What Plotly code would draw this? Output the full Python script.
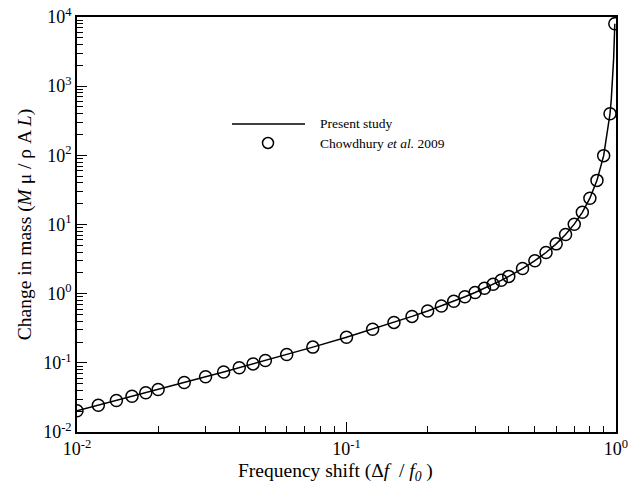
import plotly.graph_objects as go

# Chowdhury et al. 2009 (markers)
ref_shift = [0.01, 0.012, 0.014, 0.016, 0.018, 0.02, 0.025, 0.03, 0.035, 0.04, 0.045, 0.05,
             0.06, 0.075, 0.1, 0.125, 0.15, 0.175, 0.2, 0.225, 0.25, 0.275, 0.3, 0.325,
             0.35, 0.375, 0.4, 0.45, 0.5, 0.55, 0.6, 0.65, 0.7, 0.75, 0.8, 0.85, 0.9, 0.95, 0.99]
ref_mass = [0.0203, 0.0244, 0.0286, 0.0328, 0.0370, 0.0412, 0.0519, 0.0628, 0.0739, 0.0851, 0.0965, 0.108,
            0.1317, 0.1687, 0.2346, 0.3061, 0.3841, 0.4692, 0.5625, 0.6649, 0.7778, 0.9025, 1.0408, 1.1948,
            1.3669, 1.56, 1.7778, 2.3058, 3.0, 3.938, 5.25, 7.163, 10.11, 15.0, 24.0, 43.44, 99.0, 399.0, 8000.0]

# Present study (line)
study_shift = [0.01, 0.012, 0.014, 0.016, 0.018, 0.02, 0.025, 0.03, 0.035, 0.04, 0.045, 0.05,
               0.06, 0.075, 0.1, 0.125, 0.15, 0.175, 0.2, 0.225, 0.25, 0.275, 0.3, 0.325,
               0.35, 0.375, 0.4, 0.45, 0.5, 0.55, 0.6, 0.65, 0.7, 0.75, 0.8, 0.85, 0.9, 0.95,
               0.96, 0.97, 0.98, 0.99]
study_mass = [0.0203, 0.0244, 0.0286, 0.0328, 0.0370, 0.0412, 0.0519, 0.0628, 0.0739, 0.0851, 0.0965, 0.108,
              0.1317, 0.1687, 0.2346, 0.3061, 0.3841, 0.4692, 0.5625, 0.6649, 0.7778, 0.9025, 1.0408, 1.1948,
              1.3669, 1.56, 1.7778, 2.3058, 3.0, 3.938, 5.25, 7.163, 10.11, 15.0, 24.0, 43.44, 99.0, 399.0,
              624.0, 1110.0, 2499.0, 8000.0]

x_tickvals = [0.01, 0.1, 1]
x_ticktext = ["10<sup>-2</sup>", "10<sup>-1</sup>", "10<sup>0</sup>"]
y_tickvals = [0.01, 0.1, 1, 10, 100, 1000, 10000]
y_ticktext = ["10<sup>-2</sup>", "10<sup>-1</sup>", "10<sup>0</sup>", "10<sup>1</sup>",
              "10<sup>2</sup>", "10<sup>3</sup>", "10<sup>4</sup>"]

FONT = "Liberation Serif, Times New Roman, serif"

def minor_vals(lo, hi):
    out = []
    d = lo
    while d < hi:
        for m in range(2, 10):
            out.append(m * d)
        d *= 10
    return out

fig = go.Figure()
fig.add_trace(go.Scatter(x=study_shift, y=study_mass, mode="lines",
                         line=dict(color="black", width=1.5), showlegend=False))
fig.add_trace(go.Scatter(x=ref_shift, y=ref_mass, mode="markers",
                         marker=dict(symbol="circle-open", size=12, color="black",
                                     line=dict(color="black", width=1.5)),
                         showlegend=False))

axis_common = dict(
    type="log", showgrid=False, zeroline=False, automargin=False,
    showline=True, linecolor="black", linewidth=1.5, mirror=True,
    ticks="inside", ticklen=10, tickwidth=1.2, tickcolor="black",
    tickfont=dict(family=FONT, size=18, color="black"),
    ticklabeloverflow="allow",
)

fig.update_xaxes(**axis_common, range=[-2, 0], tickvals=x_tickvals, ticktext=x_ticktext,
                 minor=dict(ticks="inside", ticklen=6, tickwidth=1, tickcolor="black",
                            tickvals=minor_vals(0.01, 1), showgrid=False))
fig.update_yaxes(**axis_common, range=[-2, 4], tickvals=y_tickvals, ticktext=y_ticktext,
                 minor=dict(ticks="inside", ticklen=6, tickwidth=1, tickcolor="black",
                            tickvals=minor_vals(0.01, 10000), showgrid=False),
                 title=dict(text="Change in mass (<i>M</i> μ / ρ A <i>L</i>)",
                            font=dict(family=FONT, size=19.5, color="black"), standoff=6))

# x-axis title placed as annotation (slightly left of centre, as in reference)
fig.add_annotation(xref="paper", yref="paper", x=(335 - 77) / 539, y=-(472 - 432) / 415,
                   xanchor="center", yanchor="middle", showarrow=False,
                   text="Frequency shift (Δ<i>f</i>  / <i>f<sub>0</sub></i> )",
                   font=dict(family=FONT, size=19.5, color="black"))

# Manual legend
lx0, lx1 = (232 - 77) / 539, (305 - 77) / 539
ly1 = 1 - (124 - 17) / 415
ly2 = 1 - (143 - 17) / 415
fig.add_shape(type="line", xref="paper", yref="paper", x0=lx0, x1=lx1, y0=ly1, y1=ly1,
              line=dict(color="black", width=1.5))
fig.add_shape(type="circle", xref="paper", yref="paper", xsizemode="pixel", ysizemode="pixel",
              xanchor=(268 - 77) / 539, yanchor=ly2, x0=-5.5, x1=5.5, y0=-5.5, y1=5.5,
              line=dict(color="black", width=1.5))
tx = (318 - 77) / 539
fig.add_annotation(xref="paper", yref="paper", x=tx, y=ly1, xanchor="left", yanchor="middle",
                   text="Present study", showarrow=False,
                   font=dict(family=FONT, size=13.5, color="black"))
fig.add_annotation(xref="paper", yref="paper", x=tx, y=ly2, xanchor="left", yanchor="middle",
                   text="Chowdhury <i>et al.</i> 2009", showarrow=False,
                   font=dict(family=FONT, size=13.5, color="black"))

fig.update_layout(
    width=628, height=494,
    margin=dict(l=77, r=12, t=17, b=62),
    paper_bgcolor="white", plot_bgcolor="white",
    font=dict(family=FONT, color="black"),
    showlegend=False,
)

fig.write_html("out.html")
